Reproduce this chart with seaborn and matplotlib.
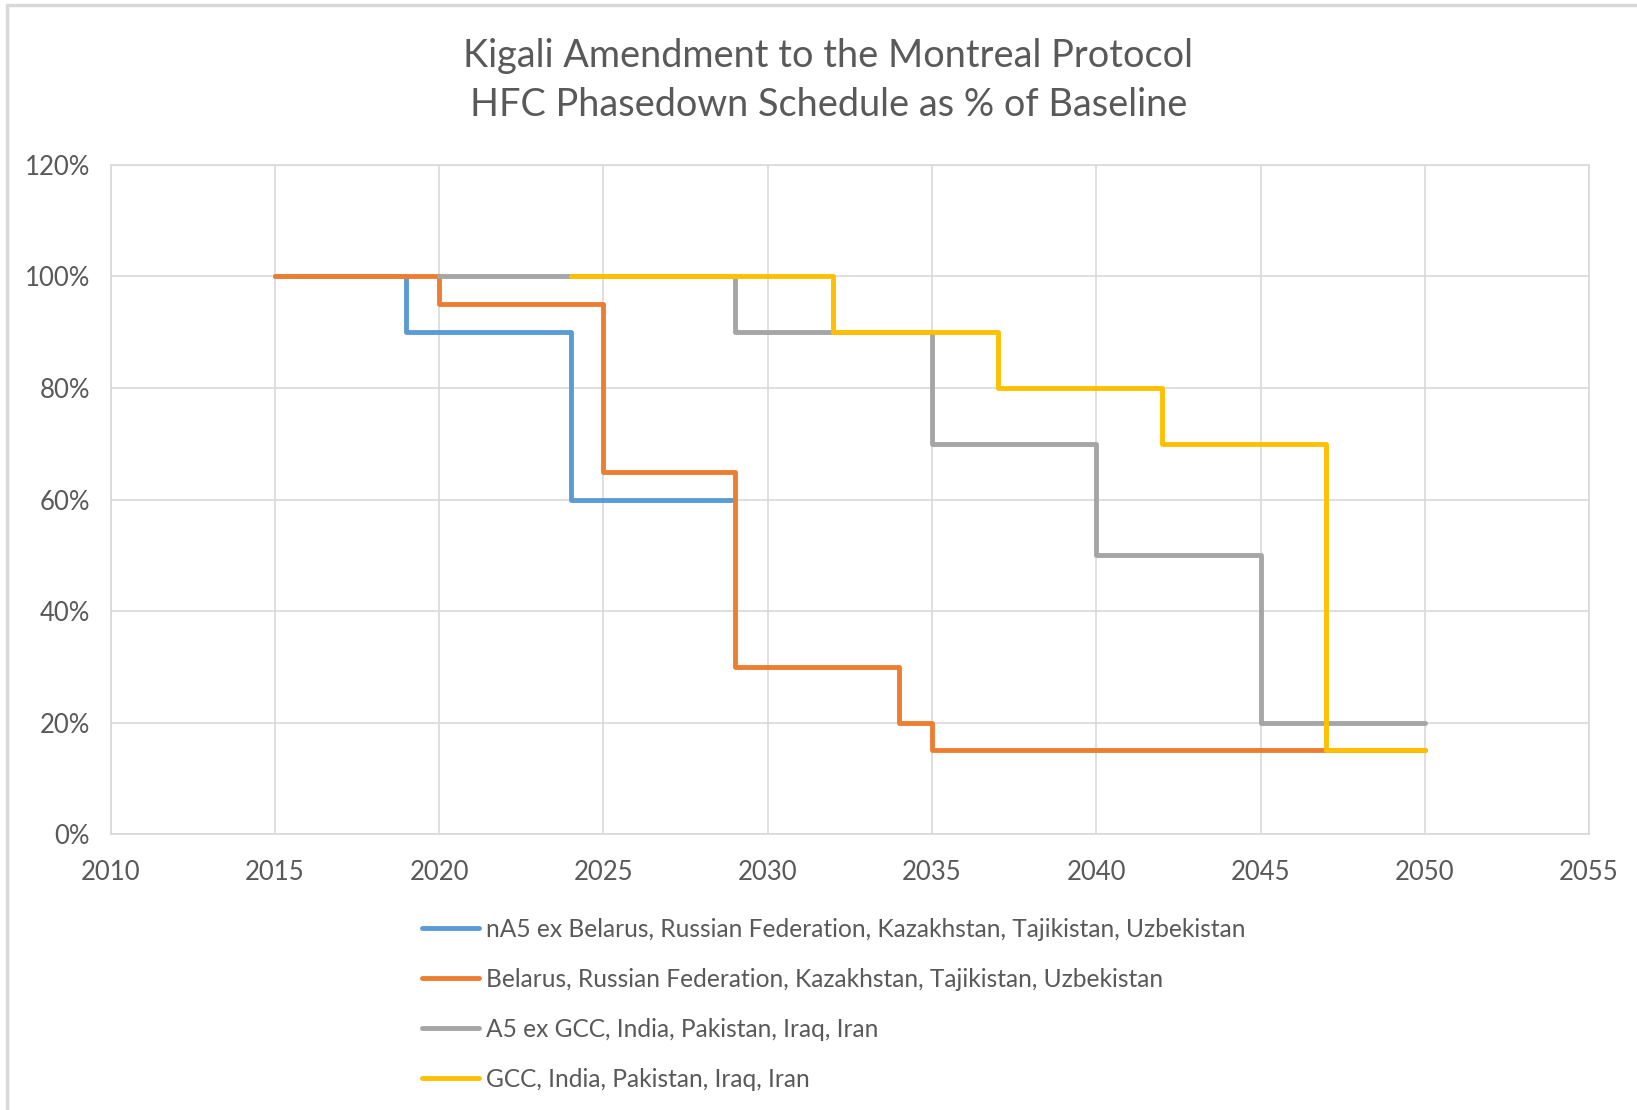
import pandas as pd
import seaborn as sns
import matplotlib.pyplot as plt
from matplotlib.ticker import PercentFormatter, MultipleLocator
from matplotlib.lines import Line2D

# Phasedown steps (year, % of baseline)
series_names = [
    'nA5 ex Belarus, Russian Federation, Kazakhstan, Tajikistan, Uzbekistan',
    'Belarus, Russian Federation, Kazakhstan, Tajikistan, Uzbekistan',
    'A5 ex GCC, India, Pakistan, Iraq, Iran',
    'GCC, India, Pakistan, Iraq, Iran',
]
years_na5 = [2015, 2019, 2024, 2029]
pct_na5 = [100, 90, 60, 60]
years_brk = [2015, 2020, 2025, 2029, 2034, 2035, 2050]
pct_brk = [100, 95, 65, 30, 20, 15, 15]
years_a5 = [2020, 2029, 2035, 2040, 2045, 2050]
pct_a5 = [100, 90, 70, 50, 20, 20]
years_gcc = [2024, 2032, 2037, 2042, 2047, 2050]
pct_gcc = [100, 90, 80, 70, 15, 15]

colors = ['#5B9BD5', '#ED7D31', '#A5A5A5', '#FFC000']

frames = []
for name, yrs, vals in zip(series_names,
                           [years_na5, years_brk, years_a5, years_gcc],
                           [pct_na5, pct_brk, pct_a5, pct_gcc]):
    frames.append(pd.DataFrame({'Year': yrs, 'Pct': vals, 'Group': name}))
df = pd.concat(frames, ignore_index=True)

sns.set_theme(style='white')
plt.rcParams['font.family'] = ['Lato', 'DejaVu Sans']
text_color = '#595959'
grid_color = '#D9D9D9'

fig = plt.figure(figsize=(16.37, 11.10), dpi=100)
ax = fig.add_axes([0.0676, 0.2486, 0.9031, 0.6028])

sns.lineplot(data=df, x='Year', y='Pct', hue='Group', hue_order=series_names,
             palette=colors, drawstyle='steps-post', linewidth=3.5,
             solid_capstyle='round', solid_joinstyle='round',
             legend=False, ax=ax, zorder=3)

ax.set_xlim(2010, 2055)
ax.set_ylim(0, 120)
ax.xaxis.set_major_locator(MultipleLocator(5))
ax.yaxis.set_major_locator(MultipleLocator(20))
ax.yaxis.set_major_formatter(PercentFormatter(100, decimals=0))
ax.grid(True, color=grid_color, linewidth=1.2)
ax.set_axisbelow(True)
for s in ax.spines.values():
    s.set_color(grid_color)
    s.set_linewidth(1.2)
ax.tick_params(axis='both', length=0, labelsize=18.5, colors=text_color)
ax.tick_params(axis='y', pad=15)
ax.tick_params(axis='x', pad=19)
ax.set_xlabel('')
ax.set_ylabel('')

# Two-line title, centred over the chart area
fig.text(0.506, 0.950, 'Kigali Amendment to the Montreal Protocol', ha='center', va='center',
         fontsize=27.3, color=text_color)
fig.text(0.506, 0.905, 'HFC Phasedown Schedule as % of Baseline', ha='center', va='center',
         fontsize=27.3, color=text_color)

# Legend stacked below the plot
handles = [Line2D([0], [0], color=c, linewidth=3.5, solid_capstyle='round') for c in colors]
fig.legend(handles, series_names, loc='upper left', bbox_to_anchor=(0.252, 0.182),
           frameon=False, fontsize=17.65, labelcolor=text_color, labelspacing=1.1,
           handlelength=2.3, handletextpad=0.3, borderaxespad=0)

# Chart-area border (only top and left edges show in the crop)
fig.add_artist(Line2D([0.0043, 0.0043], [0, 0.9955], color='#D9D9D9', linewidth=2.5))
fig.add_artist(Line2D([0.0043, 1], [0.9955, 0.9955], color='#D9D9D9', linewidth=2.5))

fig.savefig('out.png', dpi=100)
